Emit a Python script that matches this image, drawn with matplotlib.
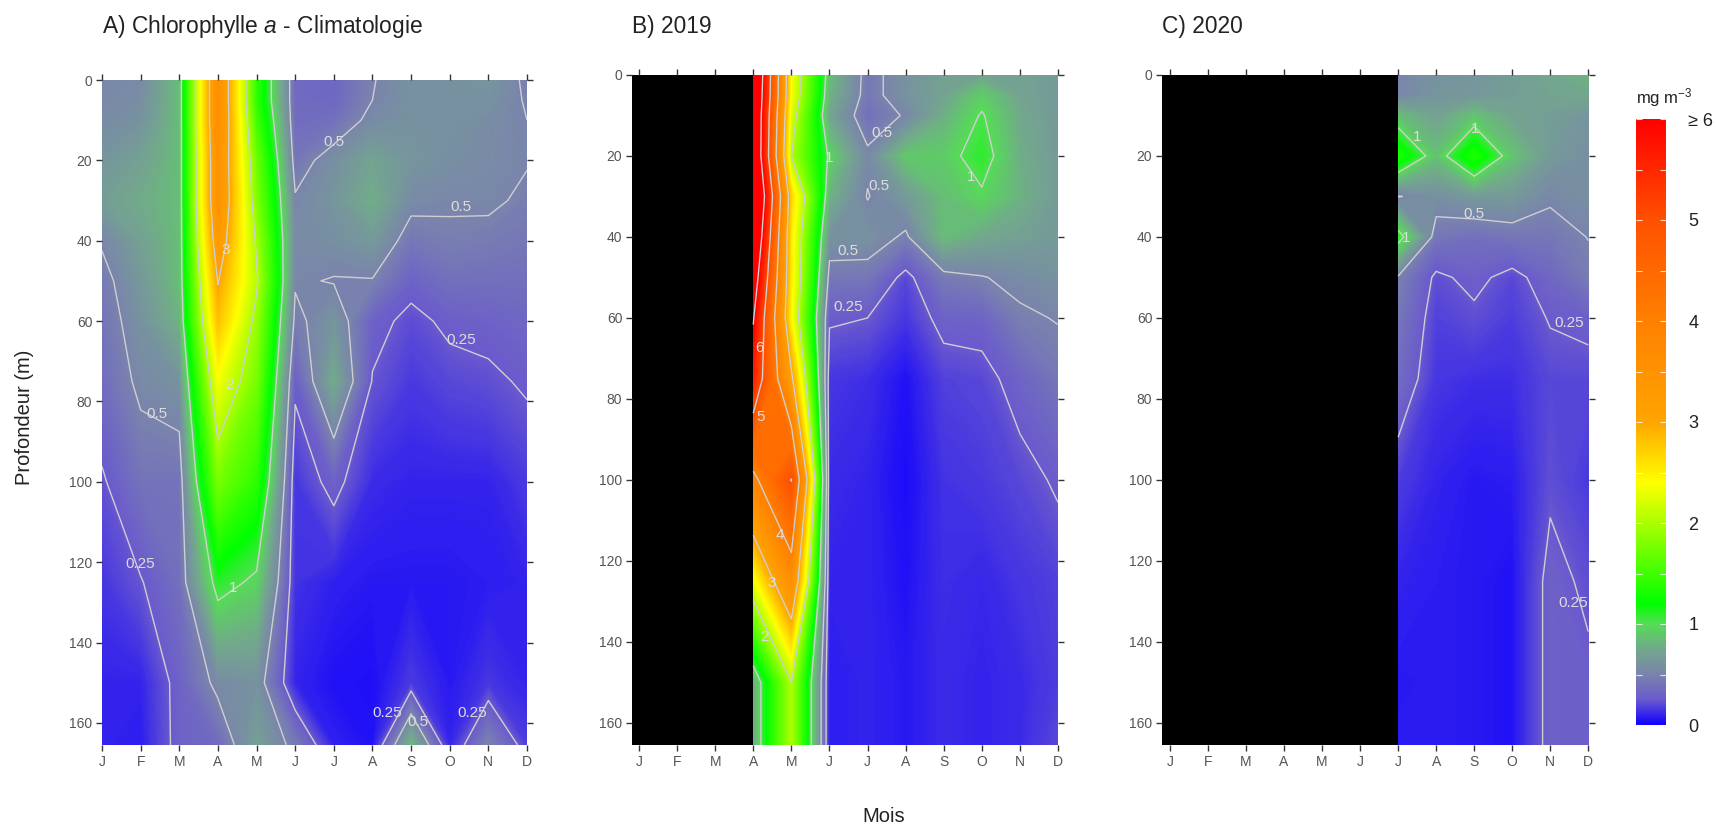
import numpy as np
import matplotlib
matplotlib.use("Agg")
import matplotlib.pyplot as plt
from matplotlib.cm import ScalarMappable
from matplotlib.colors import LinearSegmentedColormap, Normalize

plt.rcParams["font.family"] = ["Liberation Sans", "DejaVu Sans"]
plt.rcParams["mathtext.fontset"] = "custom"
plt.rcParams["mathtext.rm"] = "Liberation Sans"
plt.rcParams["mathtext.it"] = "Liberation Sans:italic"

month_labels = ["J", "F", "M", "A", "M", "J", "J", "A", "S", "O", "N", "D"]
months = np.arange(1, 13)
depths = [0, 5, 10, 20, 30, 40, 50, 60, 75, 100, 125, 150, 165.5]
depth_ticks = [0, 20, 40, 60, 80, 100, 120, 140, 160]
contour_levels = [0.25, 0.5, 1, 2, 3, 4, 5, 6]

# climatologie, J -> D, une ligne par profondeur
chl_clim = [
    [.52, .55, .85, 3.6, 1.40, .35, .33, .49, .60, .60, .62, .47],
    [.53, .57, .85, 3.6, 1.40, .35, .33, .50, .60, .60, .60, .485],
    [.55, .60, .85, 3.6, 1.50, .36, .38, .55, .60, .60, .56, .50],
    [.62, .70, .85, 3.5, 1.70, .42, .58, .72, .62, .58, .55, .51],
    [.68, .76, .85, 3.5, 1.80, .52, .62, .78, .55, .52, .53, .47],
    [.52, .70, .85, 3.3, 1.95, .55, .58, .65, .42, .47, .45, .42],
    [.44, .64, .85, 3.02, 2.05, .52, .49, .49, .30, .38, .38, .38],
    [.40, .60, .80, 2.8, 1.90, .45, .62, .30, .21, .28, .30, .33],
    [.36, .54, .60, 2.35, 1.75, .28, .76, .24, .16, .20, .22, .27],
    [.23, .40, .40, 1.75, 1.40, .15, .30, .12, .10, .10, .10, .16],
    [.15, .24, .38, 1.10, .95, .14, .09, .07, .07, .07, .08, .10],
    [.10, .10, .30, .55, .60, .10, .05, .04, .16, .07, .15, .10],
    [.10, .08, .30, .35, .70, .44, .09, .05, .84, .10, .50, .17],
]

# 2019, avril -> decembre
chl_2019 = [
    [7.2, 2.35, .85, .43, .60, .70, .72, .72, .65],
    [7.1, 2.35, .80, .43, .60, .72, .92, .72, .65],
    [7.0, 2.20, .72, .38, .52, .78, 1.02, .75, .65],
    [7.0, 2.00, .95, .54, .90, .92, 1.10, .78, .65],
    [7.4, 2.65, .80, .49, .65, .85, .97, .80, .66],
    [7.0, 2.50, .60, .60, .47, .85, .75, .70, .65],
    [6.5, 2.50, .43, .42, .20, .44, .49, .55, .60],
    [6.05, 2.40, .27, .25, .15, .30, .31, .47, .51],
    [5.6, 3.10, .15, .13, .05, .18, .20, .31, .42],
    [3.85, 5.02, .12, .10, .03, .14, .16, .20, .27],
    [2.3, 3.60, .10, .10, .05, .13, .11, .15, .18],
    [.75, 2.00, .08, .10, .07, .12, .10, .12, .17],
    [.75, 2.00, .08, .10, .07, .12, .10, .12, .20],
]

# 2020, juillet -> decembre
chl_2020 = [
    [.50, .60, .62, .68, .74, .80],
    [.52, .62, .64, .68, .72, .74],
    [.85, .70, .87, .72, .68, .62],
    [1.35, .87, 1.35, .88, .65, .58],
    [.49, .58, .65, .65, .53, .58],
    [1.10, .42, .38, .42, .42, .505],
    [.48, .22, .29, .20, .33, .45],
    [.42, .18, .22, .17, .26, .29],
    [.36, .15, .13, .13, .20, .20],
    [.17, .10, .07, .08, .22, .16],
    [.10, .08, .07, .05, .30, .22],
    [.07, .08, .07, .05, .30, .28],
    [.08, .08, .07, .05, .30, .28],
]

# etiquettes des contours: mois, profondeur, texte
labels_clim = [
    (7.0, 15.4, "0.5"), (10.3, 31.7, "0.5"), (4.21, 42.3, "3"), (4.3, 75.8, "2"),
    (10.3, 64.8, "0.25"), (2.41, 83, "0.5"), (2.0, 120.4, "0.25"), (4.39, 126.5, "1"),
    (8.39, 157.5, "0.25"), (9.18, 159.7, "0.5"), (10.58, 157.5, "0.25"),
]
labels_2019 = [
    (5.98, 20.6, "1"), (7.39, 14.4, "0.5"), (7.3, 27.4, "0.5"), (9.71, 25.3, "1"),
    (6.48, 43.5, "0.5"), (6.48, 57.4, "0.25"), (4.16, 67.5, "6"), (4.18, 84.5, "5"),
    (4.69, 113.6, "4"), (4.49, 125.5, "3"), (4.29, 138.7, "2"),
]
labels_2020 = [
    (7.5, 15.4, "1"), (9.02, 13.4, "1"), (7.2, 40.3, "1"), (8.99, 34.3, "0.5"),
    (11.5, 61.3, "0.25"), (11.6, 130.5, "0.25"),
]

W, H = 1716, 825
line_col = "#CFCFCF"

stops = [(0, "#1000FF"), (.25, "#6A5ACD"), (.5, "#7A84AC"), (.75, "#72A88C"), (1, "#55DD55"),
         (1.2, "#00FF00"), (2.4, "#FFFF00"), (3, "#FFA500"), (4, "#FF8000"), (5, "#FF5000"), (6, "#FF0000")]
cmap = LinearSegmentedColormap.from_list("chl", [(v / 6, c) for v, c in stops], N=1024)
cmap.set_over("#FF0000")
norm = Normalize(0, 6)


def px_axes(fig, left, top, right, bottom):
    return fig.add_axes([left / W, 1 - bottom / H, (right - left) / W, (bottom - top) / H])


def draw_panel(ax, x, z, labels, xlim):
    z = np.array(z)
    ax.set_facecolor("black")
    ax.contourf(x, depths, z, levels=np.linspace(0, 6, 1201), cmap=cmap, norm=norm,
                extend="max", antialiased=False)
    ax.contour(x, depths, z, levels=contour_levels, colors=line_col, linewidths=1.0)
    for mx, dep, s in labels:
        ax.text(mx, dep, s, color="#DDDDDD", fontsize=11, ha="center", va="center")
    ax.set_xlim(*xlim)
    ax.set_ylim(165.5, 0)
    ax.set_xticks(months)
    ax.set_xticklabels(month_labels)
    ax.set_yticks(depth_ticks)
    ax.tick_params(top=True, right=True, length=4, width=1, color="#333333",
                   labelcolor="#555555", labelsize=10, pad=3)
    for sp in ax.spines.values():
        sp.set_visible(False)


fig = plt.figure(figsize=(W / 100, H / 100), dpi=100)

ax_a = px_axes(fig, 102, 80, 527, 745)
ax_b = px_axes(fig, 632, 75, 1058, 745)
ax_c = px_axes(fig, 1162, 75, 1589, 745)

draw_panel(ax_a, months, chl_clim, labels_clim, (1, 12))
draw_panel(ax_b, months[3:], chl_2019, labels_2019, (.816, 12))
draw_panel(ax_c, months[6:], chl_2020, labels_2020, (.79, 12.02))

fig.text(102 / W, 1 - 27 / H, r"A) Chlorophylle $\mathit{a}$ - Climatologie", fontsize=16.4, va="center", color="#222222")
fig.text(632 / W, 1 - 27 / H, "B) 2019", fontsize=16.4, va="center", color="#222222")
fig.text(1162 / W, 1 - 27 / H, "C) 2020", fontsize=16.4, va="center", color="#222222")
fig.text(25 / W, 1 - 417 / H, "Profondeur (m)", rotation=90, fontsize=14.5, ha="center", va="center", color="#222222")
fig.text(884 / W, 1 - 817 / H, "Mois", fontsize=14.5, ha="center", va="center", color="#222222")

# barre de couleur
cax = px_axes(fig, 1636, 119, 1666, 725)
cb = fig.colorbar(ScalarMappable(norm=norm, cmap=cmap), cax=cax)
cb.outline.set_visible(False)
cb.set_ticks([0, 1, 2, 3, 4, 5, 6])
cb.set_ticklabels(["0", "1", "2", "3", "4", "5", "≥ 6"])
cax.tick_params(length=0, pad=16, labelsize=13, labelcolor="#222222")
for v in np.arange(0, 6.5, .5):
    cax.plot([0, .2], [v, v], color="white", lw=.8, alpha=.8, solid_capstyle="butt")
    cax.plot([.8, 1], [v, v], color="white", lw=.8, alpha=.8, solid_capstyle="butt")
cax.set_xlim(0, 1)
cax.set_ylim(0, 6)
fig.text(1636 / W, 1 - 98 / H, r"mg m$^{-3}$", fontsize=12, va="center", color="#222222")

fig.savefig("out.png", dpi=100)
